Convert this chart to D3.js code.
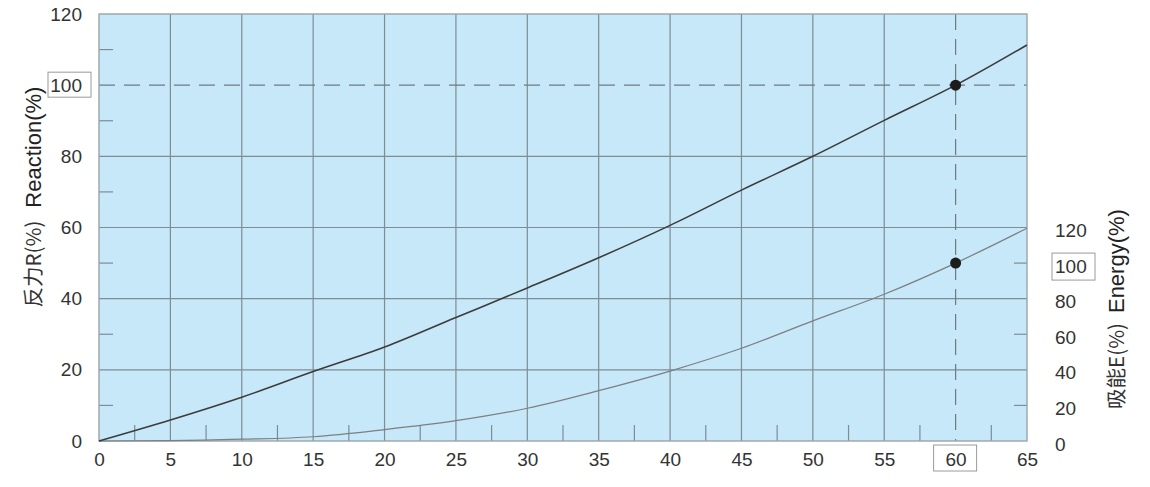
<!DOCTYPE html>
<html><head><meta charset="utf-8">
<script src="https://cdn.jsdelivr.net/npm/d3@7"></script>
<style>
body{margin:0;background:#fff;}
svg{display:block;}
</style></head>
<body>
<svg id="c" width="1150" height="487"></svg>
<script>
// ---- data ----
const stroke = [0, 5, 10, 15, 20, 25, 30, 35, 40, 45, 50, 55, 60, 65];
const reaction = [0, 5.9, 12.3, 19.5, 26.4, 34.7, 43.0, 51.5, 60.6, 70.5, 80.0, 90.1, 100, 111.3];
const energy = [0, 0.2, 1.0, 2.4, 6.4, 11.4, 18.4, 28.3, 39.3, 52.1, 67.5, 82.5, 100, 119.6];
const xTicks = [0,5,10,15,20,25,30,35,40,45,50,55,60,65];
const xMinor = [2.5,7.5,12.5,17.5,22.5,27.5,32.5,37.5,42.5,47.5,52.5,57.5,62.5];
const rTicks = [0,20,40,60,80,100,120];
const rMinor = [10,30,50,70,90,110];
const eTicks = [0,20,40,60,80,100,120];
const eMinor = [20,60,100];
const ratedStroke = 60, ratedValue = 100;
const leftTitle = ["反力R(%)", "Reaction(%)"];
const rightTitle = ["吸能E(%)", "Energy(%)"];

// ---- layout ----
const L = 99, R = 1027, T = 14, B = 441;
const svg = d3.select("#c");
const x = d3.scaleLinear().domain([0,65]).range([L,R]);
const y = d3.scaleLinear().domain([0,120]).range([B,T]);
const yE = d3.scaleLinear().domain([0,240]).range([B,T]);
const font = "'Liberation Sans', Arial, Helvetica, sans-serif";
const gridC = "#7e8c94";

svg.append("rect").attr("x",L).attr("y",T).attr("width",R-L).attr("height",B-T).attr("fill","#c6e8f9");

// grid
const g = svg.append("g");
g.selectAll(".vg").data(xTicks.filter(d=>d>0 && d<65 && d!==ratedStroke)).join("line")
  .attr("x1",d=>x(d)).attr("x2",d=>x(d)).attr("y1",T).attr("y2",B)
  .attr("stroke",gridC).attr("stroke-width",1.2);
g.selectAll(".hg").data(rTicks.filter(d=>d>0 && d<120 && d!==ratedValue)).join("line")
  .attr("x1",L).attr("x2",R).attr("y1",d=>y(d)).attr("y2",d=>y(d))
  .attr("stroke",gridC).attr("stroke-width",1.2);

// minor ticks
g.selectAll(".lm").data(rMinor).join("line")
  .attr("x1",L).attr("x2",L+14).attr("y1",d=>y(d)).attr("y2",d=>y(d))
  .attr("stroke",gridC).attr("stroke-width",1.2);
g.selectAll(".bm").data(xMinor).join("line")
  .attr("x1",d=>x(d)).attr("x2",d=>x(d)).attr("y1",B).attr("y2",B-16)
  .attr("stroke",gridC).attr("stroke-width",1.2);
g.selectAll(".rm").data(eMinor).join("line")
  .attr("x1",R).attr("x2",R-13).attr("y1",d=>yE(d)).attr("y2",d=>yE(d))
  .attr("stroke",gridC).attr("stroke-width",1.2);

// dashed reference lines
g.append("line").attr("x1",L).attr("x2",R).attr("y1",y(ratedValue)).attr("y2",y(ratedValue))
  .attr("stroke","#6e7a80").attr("stroke-width",1.2).attr("stroke-dasharray","16,9");
g.append("line").attr("x1",x(ratedStroke)).attr("x2",x(ratedStroke)).attr("y1",T).attr("y2",B)
  .attr("stroke","#6e7a80").attr("stroke-width",1.2).attr("stroke-dasharray","16,9");

// border
svg.append("rect").attr("x",L).attr("y",T).attr("width",R-L).attr("height",B-T)
  .attr("fill","none").attr("stroke","#9aa4a9").attr("stroke-width",1.4);

// curves
const lineR = d3.line().x((d,i)=>x(stroke[i])).y(d=>y(d)).curve(d3.curveCatmullRom.alpha(0.5));
const lineE = d3.line().x((d,i)=>x(stroke[i])).y(d=>yE(d)).curve(d3.curveMonotoneX);
svg.append("path").attr("d",lineE(energy)).attr("fill","none").attr("stroke","#7d7f80").attr("stroke-width",1.2);
svg.append("path").attr("d",lineR(reaction)).attr("fill","none").attr("stroke","#3c3c3c").attr("stroke-width",1.6);

// dots
svg.append("circle").attr("cx",x(ratedStroke)).attr("cy",y(ratedValue)).attr("r",5.5).attr("fill","#1c1c1c");
svg.append("circle").attr("cx",x(ratedStroke)).attr("cy",yE(ratedValue)).attr("r",5.5).attr("fill","#1c1c1c");

// axes
function styleAxis(sel){
  sel.select(".domain").remove();
  sel.selectAll("text").attr("font-family",font).attr("font-size",19).attr("fill","#333");
}
svg.append("g").attr("transform",`translate(${L},0)`)
  .call(d3.axisLeft(y).tickValues(rTicks).tickSize(0).tickPadding(17)).call(styleAxis);
svg.append("g").attr("transform",`translate(0,${B})`)
  .call(d3.axisBottom(x).tickValues(xTicks).tickSize(0).tickPadding(12)).call(styleAxis);
svg.append("g").attr("transform",`translate(${R},3)`)
  .call(d3.axisRight(yE).tickValues(eTicks).tickSize(0).tickPadding(28)).call(styleAxis);

// boxes around rated labels
const boxC = "#9a9a9a";
svg.append("rect").attr("x",48).attr("y",y(ratedValue)-13).attr("width",43).attr("height",25)
  .attr("fill","none").attr("stroke",boxC).attr("stroke-width",1);
svg.append("rect").attr("x",x(ratedStroke)-22).attr("y",B+4).attr("width",43).attr("height",26)
  .attr("fill","none").attr("stroke",boxC).attr("stroke-width",1);
svg.append("rect").attr("x",R+25).attr("y",yE(ratedValue)-10).attr("width",43).attr("height",27)
  .attr("fill","none").attr("stroke",boxC).attr("stroke-width",1);

// titles
function title(cx, cy, parts, gap){
  const t = svg.append("text").attr("transform",`translate(${cx},${cy}) rotate(-90)`)
    .attr("text-anchor","middle").attr("font-family",font).attr("font-size",22).attr("fill","#222");
  t.append("tspan").attr("font-family","'Noto Sans CJK SC', sans-serif").attr("font-size",20.5).attr("fill","#333").text(parts[0]);
  t.append("tspan").attr("dx",gap).text(parts[1]);
}
title(41, 197, leftTitle, 13);
title(1124, 309, rightTitle, 10);
</script>
</body></html>
